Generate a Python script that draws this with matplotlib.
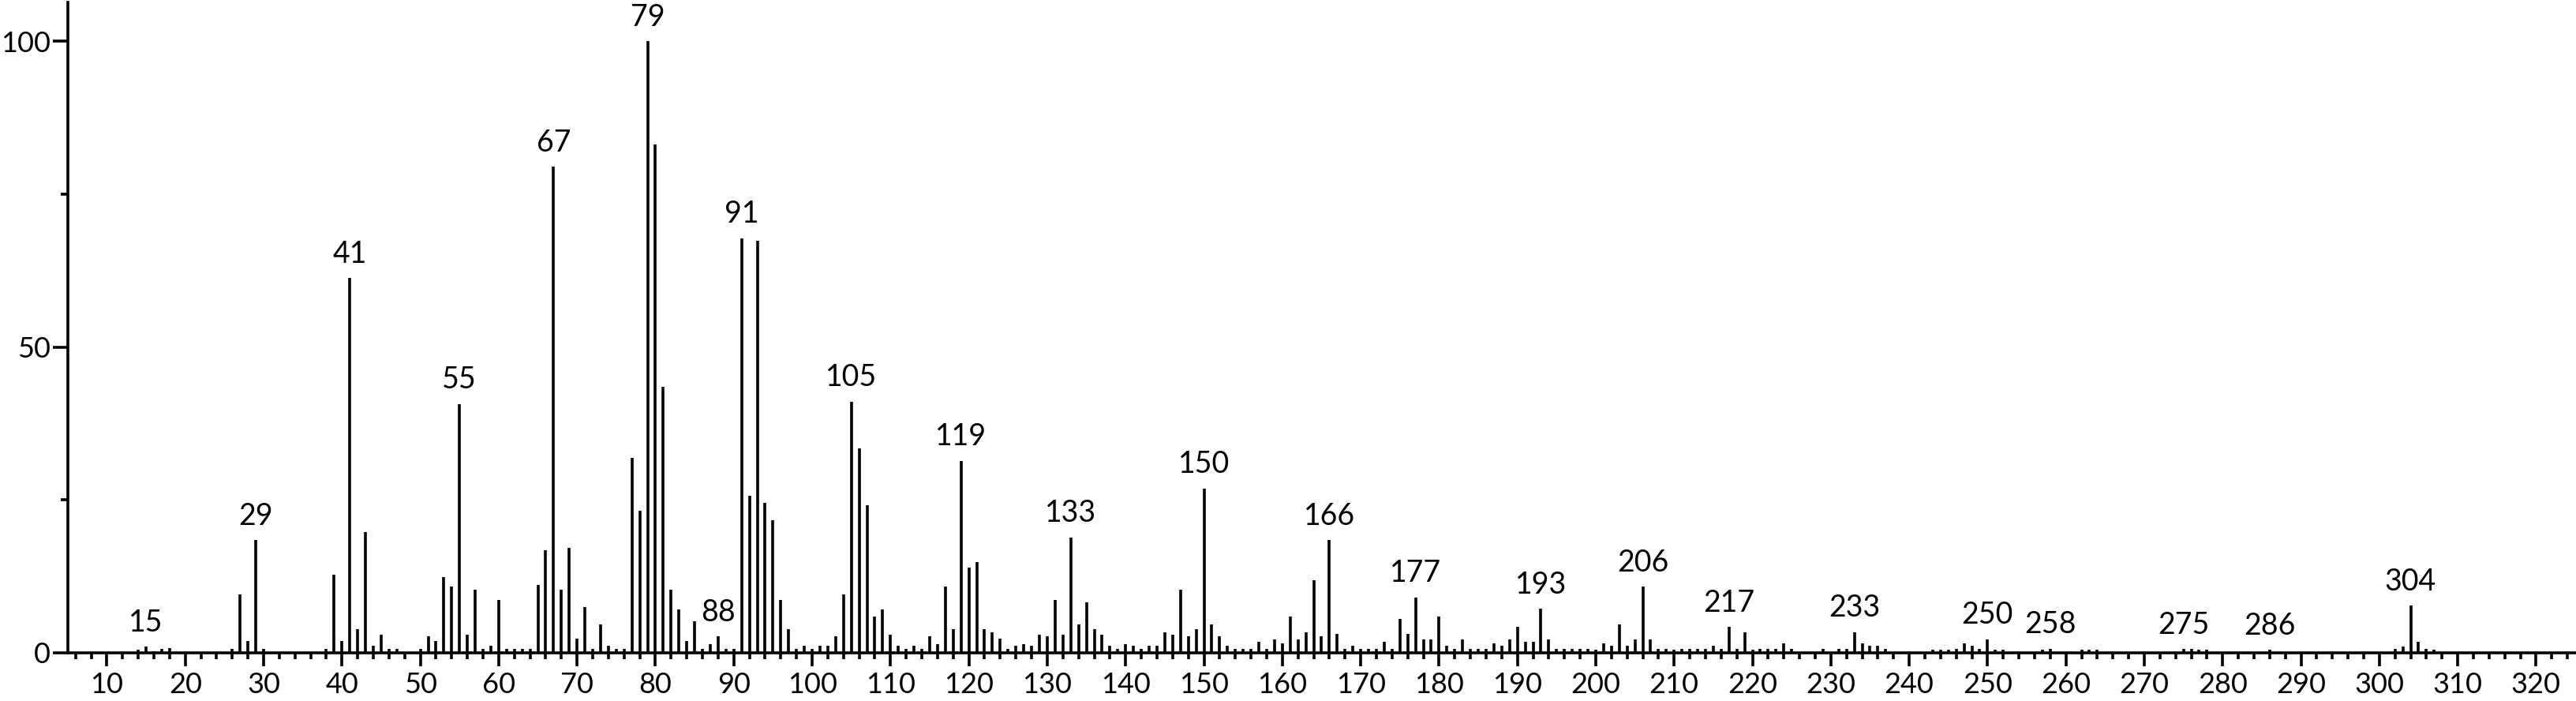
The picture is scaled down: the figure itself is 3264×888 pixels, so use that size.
"""Mass spectrum stick plot (relative intensity vs m/z)"""
import matplotlib.pyplot as plt
from matplotlib.ticker import MultipleLocator, FixedLocator

plt.rcParams["font.family"] = ["Lato", "DejaVu Sans"]

# m/z values and relative intensities
mz = [14, 15, 16, 17, 18, 26, 27, 28, 29, 30,
      38, 39, 40, 41, 42, 43, 44, 45, 46, 47, 50, 51, 52, 53, 54, 55, 56, 57, 58, 59,
      60, 61, 62, 63, 64, 65, 66, 67, 68, 69, 70, 71, 72, 73, 74, 75, 76, 77, 78, 79,
      80, 81, 82, 83, 84, 85, 86, 87, 88, 89, 90, 91, 92, 93, 94, 95, 96, 97, 98, 99,
      100, 101, 102, 103, 104, 105, 106, 107, 108, 109, 110, 111, 112, 113, 114, 115,
      116, 117, 118, 119, 120, 121, 122, 123, 124, 125, 126, 127, 128, 129, 130, 131,
      132, 133, 134, 135, 136, 137, 138, 139, 140, 141, 142, 143, 144, 145, 146, 147,
      148, 149, 150, 151, 152, 153, 154, 155, 156, 157, 158, 159, 160, 161, 162, 163,
      164, 165, 166, 167, 168, 169, 170, 171, 172, 173, 174, 175, 176, 177, 178, 179,
      180, 181, 182, 183, 184, 185, 186, 187, 188, 189, 190, 191, 192, 193, 194, 195,
      196, 197, 198, 199, 200, 201, 202, 203, 204, 205, 206, 207, 208, 209, 210, 211,
      212, 213, 214, 215, 216, 217, 218, 219, 220, 221, 222, 223, 224, 225, 229, 231,
      232, 233, 234, 235, 236, 237, 243, 244, 245, 246, 247, 248, 249, 250, 251, 252,
      257, 258, 262, 263, 264, 275, 276, 277, 278, 286, 302, 303, 304, 305, 306, 307]
intensity = [0.5, 1.0, 0.3, 0.6, 0.8, 0.7, 9.6, 1.9, 18.4, 0.6,
             0.6, 12.8, 1.9, 61.3, 3.9, 19.7, 1.1, 3.0, 0.6, 0.6, 0.6, 2.7, 1.9, 12.4, 10.8, 40.7, 3.0, 10.3, 0.6, 1.1,
             8.7, 0.6, 0.6, 0.6, 0.6, 11.1, 16.8, 79.5, 10.3, 17.2, 2.3, 7.5, 0.6, 4.7, 1.1, 0.6, 0.6, 31.9, 23.3, 100.0,
             83.2, 43.5, 10.3, 7.1, 1.9, 5.1, 0.6, 1.4, 2.7, 0.6, 0.6, 67.8, 25.7, 67.4, 24.5, 21.7, 8.7, 3.9, 0.6, 1.1,
             0.6, 1.1, 1.1, 2.7, 9.6, 41.1, 33.4, 24.1, 5.9, 7.1, 3.0, 1.1, 0.6, 1.1, 0.6, 2.7,
             1.4, 10.8, 3.9, 31.4, 14.0, 14.8, 3.9, 3.4, 2.3, 0.6, 1.1, 1.4, 1.1, 3.0, 2.7, 8.7,
             3.0, 18.9, 4.7, 8.3, 3.9, 3.0, 1.1, 0.6, 1.4, 1.1, 0.6, 1.1, 1.1, 3.4, 3.0, 10.3,
             2.7, 3.9, 26.9, 4.6, 2.7, 1.1, 0.7, 0.7, 0.7, 1.8, 0.7, 2.2, 1.5, 5.9, 2.2, 3.4,
             11.9, 2.7, 18.4, 3.1, 0.6, 1.1, 0.6, 0.6, 0.7, 1.8, 0.7, 5.5, 3.1, 9.1, 2.2, 2.2,
             5.9, 1.1, 0.6, 2.2, 0.7, 0.6, 0.6, 1.5, 1.1, 2.2, 4.2, 1.8, 1.8, 7.2, 2.2, 0.7,
             0.6, 0.6, 0.6, 0.6, 0.5, 1.5, 1.1, 4.6, 1.1, 2.2, 10.8, 2.2, 0.7, 0.6, 0.5, 0.6,
             0.6, 0.6, 0.6, 1.1, 0.6, 4.2, 0.6, 3.4, 0.5, 0.7, 0.6, 0.7, 1.5, 0.6, 0.6, 0.6,
             0.6, 3.4, 1.5, 1.1, 1.1, 0.6, 0.5, 0.5, 0.5, 0.7, 1.5, 1.1, 0.7, 2.2, 0.5, 0.5,
             0.5, 0.7, 0.5, 0.5, 0.5, 0.6, 0.7, 0.5, 0.5, 0.5, 0.6, 1.0, 7.7, 1.8, 0.6, 0.5]

# peaks that carry an m/z label
labeled_mz = [15, 29, 41, 55, 67, 79, 88, 91, 105, 119, 133, 150, 166, 177,
              193, 206, 217, 233, 250, 258, 275, 286, 304]

x_ticks = list(range(10, 330, 10))
y_ticks = [0, 50, 100]

LW = 2.6
FS = 27
TICK_FS = 26

fig = plt.figure(figsize=(32.64, 8.88), dpi=100)
ax = fig.add_axes([0.0263, 0.0687, 0.9734, 0.928])

ax.vlines(mz, 0, intensity, color="black", linewidth=LW, capstyle="butt")

height = dict(zip(mz, intensity))
for m in labeled_mz:
    ax.annotate(str(m), (m, height[m]), xytext=(0, 9), textcoords="offset points",
                ha="center", va="bottom", fontsize=FS, color="black")

ax.set_xlim(5, 325)
ax.set_ylim(0, 106.4)

ax.set_xticks(x_ticks)
ax.set_xticklabels([str(t) for t in x_ticks])
ax.xaxis.set_minor_locator(MultipleLocator(2))
ax.set_yticks(y_ticks)
ax.set_yticklabels([str(t) for t in y_ticks])
ax.yaxis.set_minor_locator(FixedLocator([25, 75]))

ax.tick_params(axis="x", which="major", direction="out", length=12, width=LW,
               labelsize=TICK_FS, pad=5)
ax.tick_params(axis="x", which="minor", direction="out", length=6, width=LW)
ax.tick_params(axis="y", which="major", direction="out", length=14, width=LW,
               labelsize=TICK_FS, pad=2)
ax.tick_params(axis="y", which="minor", direction="out", length=6.5, width=LW)

for spine in ["top", "right"]:
    ax.spines[spine].set_visible(False)
for spine in ["left", "bottom"]:
    ax.spines[spine].set_linewidth(LW)

plt.savefig("out.png", dpi=100)
plt.close()
